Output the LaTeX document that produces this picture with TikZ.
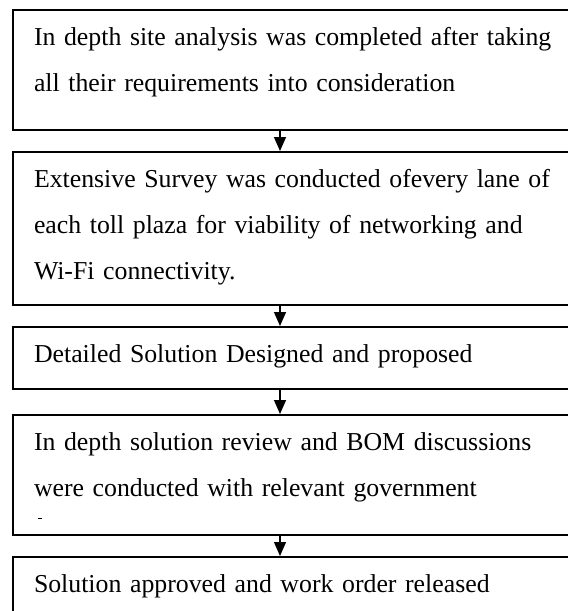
\documentclass[tikz,border=0pt]{standalone}
\usepackage{fontspec}
\setmainfont{Liberation Serif}
\usepackage{tikz}
\usetikzlibrary{arrows.meta,positioning}
\definecolor{flInk}{HTML}{000000}
\definecolor{flPaper}{HTML}{FFFFFF}
\tikzset{
  % Step box (left aligned text, fixed height, clipped at the right)
  stepbox/.style={rectangle,draw=flInk,line width=1pt,fill=flPaper,
    text width=268pt,inner xsep=10.5pt,inner ysep=0pt,
    text height=17.5pt,align=left,
    font=\fontsize{12.9pt}{23pt}\selectfont,text=flInk},
  % Arrows
  arr/.style={-{Triangle[width=6pt,length=7pt]},line width=0.6pt,color=flInk},
}

\begin{document}
\begin{tikzpicture}[x=0.5pt,y=-0.5pt]

  \useasboundingbox (0,0) rectangle (568,611);
  \clip (0,0) rectangle (568,611);

  \node[stepbox,anchor=north west,text depth=42.5pt] (b1) at (12,9)
    {In depth site analysis was completed after taking\\
     all their requirements into consideration};

  \node[stepbox,below=10pt of b1,text depth=58.75pt] (b2)
    {Extensive Survey was conducted ofevery lane of\\
     each toll plaza for viability of networking and\\
     Wi-Fi connectivity.};

  \node[stepbox,below=10.25pt of b2,text depth=13.5pt] (b3)
    {Detailed Solution Designed and proposed};

  \node[stepbox,below=12pt of b3,text depth=42.5pt] (b4)
    {In depth solution review and BOM discussions\\
     were conducted with relevant government};

  \node[stepbox,below=10pt of b4,text depth=60pt] (b5)
    {Solution approved and work order released};

  % clipped third line of b4
  \draw[line width=0.5pt] (38,518) -- (42,518);

  \coordinate (ax) at (280,0);
  \foreach \from/\to in {b1/b2,b2/b3,b3/b4,b4/b5}
    \draw[arr] (\from.south -| ax) -- (\to.north -| ax);

\end{tikzpicture}
\end{document}
